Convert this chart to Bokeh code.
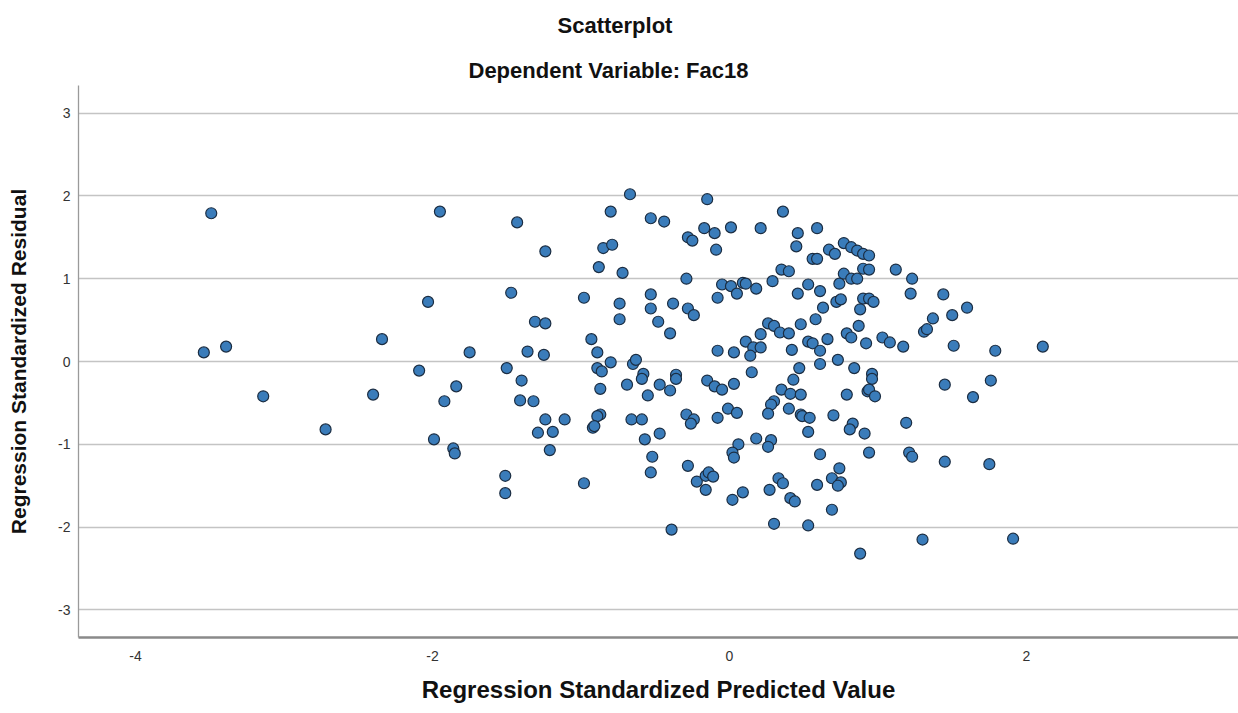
from bokeh.plotting import figure
from bokeh.models import Range1d, FixedTicker, Title, ColumnDataSource
from bokeh.embed import file_html
from bokeh.resources import INLINE

# Regression Standardized Predicted Value
pred = [-3.49, -3.54, -3.39, -3.14, -2.72, -2.34, -2.40, -1.95, -2.03, -2.09,
        -1.99, -1.92, -1.86, -1.85, -1.84, -1.75,
        -1.43, -1.24, -0.80, -0.85, -0.79, -0.88, -0.72, -1.47, -0.98, -0.74,
        -0.74, -1.31, -1.24, -1.36, -1.25, -0.93, -0.89, -0.80, -1.50, -0.89,
        -0.86,
        -1.40, -1.41, -1.32, -0.87, -1.24, -1.11, -1.29, -1.19, -0.87, -0.89,
        -0.92, -0.91, -1.21, -1.51, -1.51, -0.98,
        -0.67, -0.15, 0.36, -0.53, -0.44, -0.17, -0.10, 0.01, 0.21, 0.46,
        0.59, -0.28, -0.25, -0.09, 0.45, 0.56, 0.59, -0.29, 0.35, 0.40,
        -0.05, 0.01, 0.05, 0.09, 0.11, 0.18, 0.29, 0.46, 0.53, 0.61,
        -0.53, -0.53, -0.38, -0.08, -0.28, -0.24, -0.48, -0.40, 0.26, 0.30,
        0.34, 0.40, 0.48, 0.21, 0.11, 0.16, 0.21, 0.14, -0.08, 0.03,
        0.42, 0.53, 0.56, 0.58, 0.61, -0.65, -0.63, -0.58, -0.36, 0.15,
        0.47, 0.61,
        -0.69, -0.59, -0.47, -0.40, -0.36, -0.55, -0.15, -0.10, -0.05, 0.03,
        0.43, 0.35, 0.41, 0.48, 0.30, 0.28, 0.26, 0.40, 0.48, 0.49,
        0.54, 0.53, -0.01, 0.05, -0.08, -0.29, -0.24, -0.26, -0.66, -0.59,
        -0.57, -0.47, 0.18, 0.28, 0.26, 0.06, 0.02, 0.03, -0.52, -0.53,
        -0.28, -0.22, -0.16, -0.14, -0.11, -0.16, 0.02, 0.09, 0.27, 0.33,
        0.36, 0.41, 0.44, 0.59, 0.61, -0.39, 0.30, 0.53,
        0.77, 0.82, 0.86, 0.90, 0.94, 0.67, 0.71, 0.90, 0.94, 1.12,
        1.23, 0.77, 0.82, 0.86, 0.74, 1.22, 1.44, 0.72, 0.75, 0.90,
        0.94, 0.97, 0.63, 0.88, 1.60, 1.37, 1.50, 0.87, 1.31, 1.33,
        0.79, 0.82, 0.66, 0.92, 1.03, 1.08, 1.17, 1.51, 1.79, 2.11,
        0.73, 0.84, 0.96,
        0.96, 0.93, 0.94, 0.98, 0.79, 1.45, 1.76, 1.64, 0.70, 0.83,
        0.81, 0.91, 1.19, 0.94, 1.21, 1.23, 1.45, 1.75, 0.74, 0.69,
        0.75, 0.73, 0.69, 1.30, 1.91, 0.88]

# Regression Standardized Residual
resid = [1.79, 0.11, 0.18, -0.42, -0.82, 0.27, -0.40, 1.81, 0.72, -0.11,
         -0.94, -0.48, -1.05, -1.11, -0.30, 0.11,
         1.68, 1.33, 1.81, 1.37, 1.41, 1.14, 1.07, 0.83, 0.77, 0.70,
         0.51, 0.48, 0.46, 0.12, 0.08, 0.27, 0.11, -0.01, -0.08, -0.08,
         -0.12,
         -0.23, -0.47, -0.48, -0.33, -0.70, -0.70, -0.86, -0.85, -0.64, -0.66,
         -0.80, -0.78, -1.07, -1.38, -1.59, -1.47,
         2.02, 1.96, 1.81, 1.73, 1.69, 1.61, 1.55, 1.62, 1.61, 1.55,
         1.61, 1.50, 1.46, 1.35, 1.39, 1.24, 1.24, 1.00, 1.11, 1.09,
         0.93, 0.91, 0.82, 0.95, 0.94, 0.88, 0.97, 0.82, 0.93, 0.85,
         0.81, 0.64, 0.70, 0.77, 0.64, 0.56, 0.48, 0.34, 0.46, 0.43,
         0.35, 0.34, 0.45, 0.33, 0.24, 0.17, 0.17, 0.07, 0.13, 0.11,
         0.14, 0.24, 0.22, 0.51, 0.13, -0.03, 0.02, -0.15, -0.16, -0.13,
         -0.08, -0.03,
         -0.28, -0.21, -0.28, -0.35, -0.21, -0.41, -0.23, -0.30, -0.34, -0.27,
         -0.22, -0.34, -0.39, -0.40, -0.48, -0.52, -0.63, -0.57, -0.64, -0.66,
         -0.68, -0.85, -0.57, -0.62, -0.68, -0.64, -0.70, -0.75, -0.70, -0.70,
         -0.94, -0.87, -0.93, -0.95, -1.03, -1.00, -1.10, -1.16, -1.15, -1.34,
         -1.26, -1.45, -1.38, -1.34, -1.39, -1.55, -1.67, -1.58, -1.55, -1.41,
         -1.47, -1.65, -1.69, -1.49, -1.12, -2.03, -1.96, -1.98,
         1.43, 1.38, 1.34, 1.30, 1.28, 1.35, 1.30, 1.12, 1.11, 1.11,
         1.00, 1.06, 1.00, 1.00, 0.94, 0.82, 0.81, 0.72, 0.75, 0.76,
         0.76, 0.72, 0.65, 0.63, 0.65, 0.52, 0.56, 0.43, 0.36, 0.39,
         0.34, 0.29, 0.27, 0.22, 0.29, 0.23, 0.18, 0.19, 0.13, 0.18,
         0.02, -0.08, -0.15,
         -0.21, -0.36, -0.34, -0.42, -0.40, -0.28, -0.23, -0.43, -0.65, -0.75,
         -0.82, -0.87, -0.74, -1.10, -1.10, -1.15, -1.21, -1.24, -1.29, -1.41,
         -1.46, -1.50, -1.79, -2.15, -2.14, -2.32]

x_ticks = [-4, -2, 0, 2]
y_ticks = [-3, -2, -1, 0, 1, 2, 3]

FONT = "Liberation Sans"

src = ColumnDataSource(data=dict(pred=pred, resid=resid))

p = figure(width=1238, height=713, output_backend="svg", toolbar_location=None,
           x_range=Range1d(-4.384, 3.428), y_range=Range1d(-3.333, 3.333),
           min_border_left=78, min_border_right=0, min_border_top=85,
           min_border_bottom=76)
p.outline_line_color = None
p.background_fill_color = "white"
p.border_fill_color = "white"

sub = Title(text="Dependent Variable: Fac18", align="left", offset=390,
            text_font=FONT, text_font_size="22px", text_font_style="bold",
            text_color="#111111", standoff=6)
p.add_layout(sub, "above")
main = Title(text="Scatterplot", align="left", offset=479,
             vertical_align="top", text_line_height=0.6,
             text_font=FONT, text_font_size="22px", text_font_style="bold",
             text_color="#111111", standoff=25)
p.add_layout(main, "above")

p.xgrid.visible = False
p.ygrid.grid_line_color = "#c4c4c4"
p.ygrid.grid_line_width = 1.6

p.xaxis.ticker = FixedTicker(ticks=x_ticks)
p.yaxis.ticker = FixedTicker(ticks=y_ticks)
p.xaxis.major_label_overrides = {t: str(t) for t in x_ticks}
p.yaxis.major_label_overrides = {t: str(t) for t in y_ticks}

for ax in (p.xaxis[0], p.yaxis[0]):
    ax.major_tick_line_color = None
    ax.minor_tick_line_color = None
    ax.major_tick_out = 0
    ax.major_tick_in = 0
    ax.minor_tick_out = 0
    ax.minor_tick_in = 0
    ax.major_label_text_font = FONT
    ax.major_label_text_font_size = "14px"
    ax.major_label_text_color = "#333333"
    ax.axis_label_text_font = FONT
    ax.axis_label_text_font_style = "bold"
    ax.axis_label_text_color = "#111111"

p.yaxis.axis_line_color = "#9a9a9a"
p.yaxis.axis_line_width = 1.3
p.xaxis.axis_line_color = "#8a8a8a"
p.xaxis.axis_line_width = 2.5

p.yaxis.axis_label = "Regression Standardized Residual"
p.yaxis.axis_label_text_font_size = "21px"
p.yaxis.major_label_standoff = 8
p.yaxis.axis_label_standoff = 25

p.xaxis.axis_label = "Regression Standardized Predicted Value"
p.xaxis.axis_label_text_font_size = "24px"
p.xaxis.major_label_standoff = 13
p.xaxis.axis_label_standoff = 12

p.scatter(x="pred", y="resid", source=src, size=11,
          fill_color="#3a7cba", line_color="#1b2d42", line_width=1.2)

open("out.html", "w").write(file_html(p, INLINE))
